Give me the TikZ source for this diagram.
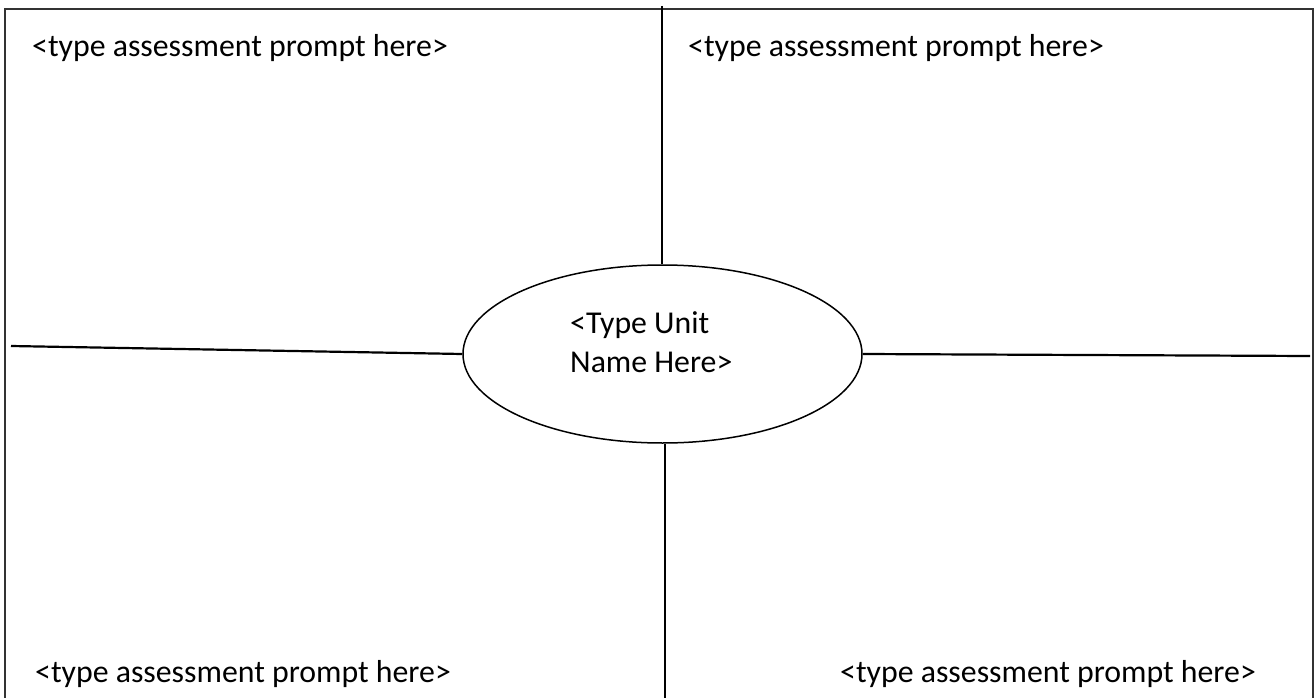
\documentclass[tikz,border=0pt]{standalone}
\usepackage{fontspec}
\setmainfont{Carlito}
\usetikzlibrary{shapes.geometric}
\usetikzlibrary{positioning}

\tikzset{
  prompt/.style={anchor=base west,inner sep=0pt,font=\fontsize{31.8}{39}\selectfont},
  spoke/.style={line width=2.2pt},
}

\begin{document}
\begin{tikzpicture}[x=1pt,y=-1pt]
\useasboundingbox (0,0) rectangle (1314,698);

% outer frame, open at the bottom
\draw[line width=1.6pt,draw=black!80] (5,703) -- (5,9) -- (1313,9) -- (1313,703);

% centre ellipse
\node[draw,ellipse,line width=1.5pt,minimum width=399pt,minimum height=178pt,inner sep=0pt] (unit) at (662.5,354) {};
\node[prompt,align=left] (unitname) at (570,372) {<Type Unit\\Name Here>};

% the four spokes
\coordinate (topend) at (662,6);
\coordinate (bottomend) at (665,703);
\coordinate (leftend) at (11,346);
\coordinate (rightend) at (1310,356);
\draw[spoke] (topend) -- (unit.north -| topend);
\draw[spoke] (unit.south -| bottomend) -- (bottomend);
\draw[spoke] (leftend) -- (unit.west);
\draw[spoke] (unit.east) -- (rightend);

% assessment prompts
\node[prompt] (prompttl) at (32,57) {<type assessment prompt here>};
\node[prompt] (prompttr) at (688,57) {<type assessment prompt here>};
\node[prompt] (promptbl) at (35,682) {<type assessment prompt here>};
\node[prompt] (promptbr) at (840,682) {<type assessment prompt here>};

\end{tikzpicture}
\end{document}
